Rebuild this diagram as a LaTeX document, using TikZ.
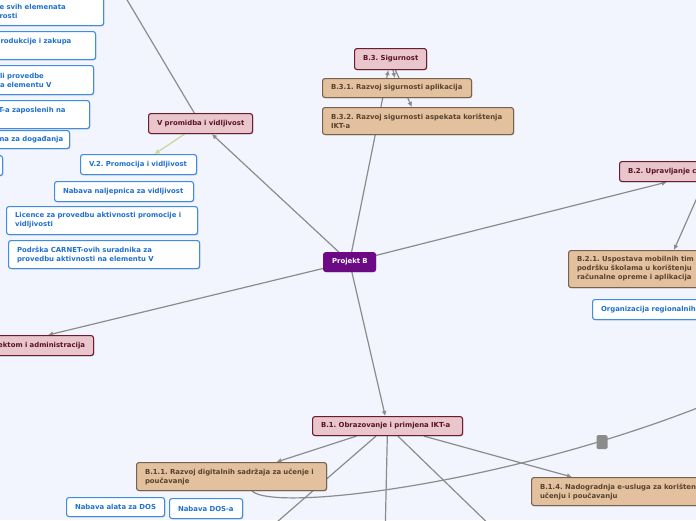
\documentclass[tikz,border=0pt]{standalone}
\usepackage{fontspec}
\newfontfamily\mmfont{DejaVu Sans}
\usetikzlibrary{arrows.meta,shadows,backgrounds}
\definecolor{bg}{HTML}{F2F5FD}
\definecolor{pinkf}{HTML}{E8C6CC}
\definecolor{pinkd}{HTML}{6E1B2E}
\definecolor{pinkt}{HTML}{5A1226}
\definecolor{tanf}{HTML}{E3C09E}
\definecolor{tand}{HTML}{76624F}
\definecolor{tant}{HTML}{56432F}
\definecolor{bluet}{HTML}{1F70D0}
\definecolor{blued}{HTML}{3F8CE4}
\definecolor{purp}{HTML}{6C0A86}
\definecolor{linec}{HTML}{8C8C8C}
\definecolor{greenl}{HTML}{C8D794}
\begin{document}
\begin{tikzpicture}[x=1pt,y=-1pt,
  mm/.style={rounded corners=2.5pt, anchor=north west, align=left, inner xsep=8.5pt, inner ysep=0pt,
    font=\mmfont\bfseries\fontsize{6.9}{9}\selectfont\frenchspacing, line width=1.1pt,
    drop shadow={shadow xshift=0.8pt,shadow yshift=-0.8pt,opacity=0.18,fill=black}},
  pinkbox/.style={mm, fill=pinkf, draw=pinkd, text=pinkt},
  tanbox/.style={mm, fill=tanf, draw=tand, text=tant},
  bluebox/.style={mm, fill=white, draw=blued, text=bluet},
  purpbox/.style={mm, fill=purp, draw=purp, text=white},
  conn/.style={draw=linec, line width=1.2pt},
  arr/.style={conn, -{Latex[length=5pt,width=5pt]}},
  garr/.style={draw=greenl, line width=1.2pt, -{Latex[length=5pt,width=5pt]}}
]
\useasboundingbox (0,0) rectangle (696,520);
\clip (0,0) rectangle (696,520);

% nodes
\node[purpbox, minimum width=52, minimum height=19, text width=35pt] (pb) at (323,252) {\mbox{Projekt B}};
\node[pinkbox, minimum width=72, minimum height=21, text width=55pt] (b3) at (354,48) {\mbox{B.3. Sigurnost}};
\node[tanbox, minimum width=149, minimum height=19, text width=132pt] (b31) at (322,78) {\mbox{B.3.1. Razvoj sigurnosti aplikacija}};
\node[tanbox, minimum width=191, minimum height=27, text width=174pt] (b32) at (322,107) {\mbox{B.3.2. Razvoj sigurnosti aspekata korištenja}\\IKT-a};
\node[pinkbox, minimum width=178, minimum height=20, text width=161pt] (b2) at (619,161) {\mbox{B.2. Upravljanje c}};
\node[tanbox, minimum width=194, minimum height=37, text width=177pt] (b21) at (568,250) {\mbox{B.2.1. Uspostava mobilnih tim}\\\mbox{podršku školama u korištenju}\\\mbox{računalne opreme i aplikacija}};
\node[bluebox, minimum width=200, minimum height=20, text width=183pt] (org) at (592,299) {\mbox{Organizacija regionalnih}};
\node[pinkbox, minimum width=104, minimum height=20, text width=87pt] (v) at (148,113) {\mbox{V promidba i vidljivost}};
\node[bluebox, minimum width=116, minimum height=20, text width=99pt] (v2) at (80,154) {\mbox{V.2. Promocija i vidljivost}};
\node[bluebox, minimum width=139, minimum height=20, text width=122pt] (nal) at (54,181) {\mbox{Nabava naljepnica za vidljivost}};
\node[bluebox, minimum width=191, minimum height=28, text width=174pt] (lic) at (6,206) {\mbox{Licence za provedbu aktivnosti promocije i}\\vidljivosti};
\node[bluebox, minimum width=191, minimum height=28, text width=174pt] (pod) at (8,240) {\mbox{Podrška CARNET-ovih suradnika za}\\\mbox{provedbu aktivnosti na elementu V}};
\node[bluebox, minimum width=112.5, minimum height=28, text width=95.5pt] (tl1) at (-9.5,-3) {\mbox{e svih elemenata}\\rosti};
\node[bluebox, minimum width=103.5, minimum height=28, text width=86.5pt] (tl2) at (-8.5,31) {\mbox{rodukcije i zakupa}\\~};
\node[bluebox, minimum width=102, minimum height=29, text width=85pt] (tl3) at (-9,65) {\mbox{li provedbe}\\\mbox{a elementu V}};
\node[bluebox, minimum width=99.5, minimum height=28, text width=82.5pt] (tl4) at (-10.5,100) {\mbox{T-a zaposlenih na}\\~};
\node[bluebox, minimum width=78.5, minimum height=18, text width=61.5pt] (tl5) at (-9.5,130) {\mbox{na za događanja}};
\node[bluebox, minimum width=62, minimum height=20, text width=45pt] (tl6) at (-60,155) {};
\node[pinkbox, align=right, minimum width=178, minimum height=20, text width=161pt] (adm) at (-85,335) {\mbox{ektom i administracija}};
\node[pinkbox, minimum width=150, minimum height=19, text width=133pt] (b1) at (312,416) {\mbox{B.1. Obrazovanje i primjena IKT-a}};
\node[tanbox, minimum width=190, minimum height=28, text width=173pt] (b11) at (136,462) {\mbox{B.1.1. Razvoj digitalnih sadržaja za učenje i}\\poučavanje};
\node[tanbox, minimum width=186, minimum height=28, text width=169pt] (b14) at (531,477) {\mbox{B.1.4. Nadogradnja e-usluga za korišten}\\\mbox{učenju i poučavanju}};
\node[bluebox, minimum width=98, minimum height=19, text width=81pt] (dos1) at (66,497) {\mbox{Nabava alata za DOS}};
\node[bluebox, minimum width=73, minimum height=20, text width=56pt] (dos2) at (169,498) {\mbox{Nabava DOS-a}};
\node[fill=linec, rounded corners=1.5pt, minimum width=11, minimum height=14, inner sep=0pt] (hd) at (602,442) {};

\coordinate (vtop) at (120,-12);
\coordinate (f1) at (262,535);
\coordinate (f2) at (385,540);
\coordinate (f3) at (500,535);
\coordinate (cend) at (700,407);

\begin{scope}[on background layer]
  \clip (0,0) rectangle (696,520);
  \fill[bg] (0,0) rectangle (696,520);
  \draw[conn] (v) -- (vtop);
  \draw[arr] (pb) -- (v);
  \draw[garr] (v) -- (v2);
  \draw[arr] (pb) -- (b3);
  \draw[arr] (b3) -- (b31);
  \draw[arr] (b3) -- (b32);
  \draw[arr] (pb) -- (b2);
  \draw[arr] (b2) -- (b21);
  \draw[arr] (pb) -- (adm);
  \draw[arr] (pb) -- (b1);
  \draw[arr] (b1) -- (b11);
  \draw[arr] (b1) -- (b14);
  \draw[conn] (b1) -- (f1);
  \draw[conn] (b1) -- (f2);
  \draw[conn] (b1) -- (f3);
  \draw[conn] (b11.south west) ++(116,0) .. controls (275,512) and (500,485) .. (cend);
\end{scope}
\end{tikzpicture}
\end{document}
